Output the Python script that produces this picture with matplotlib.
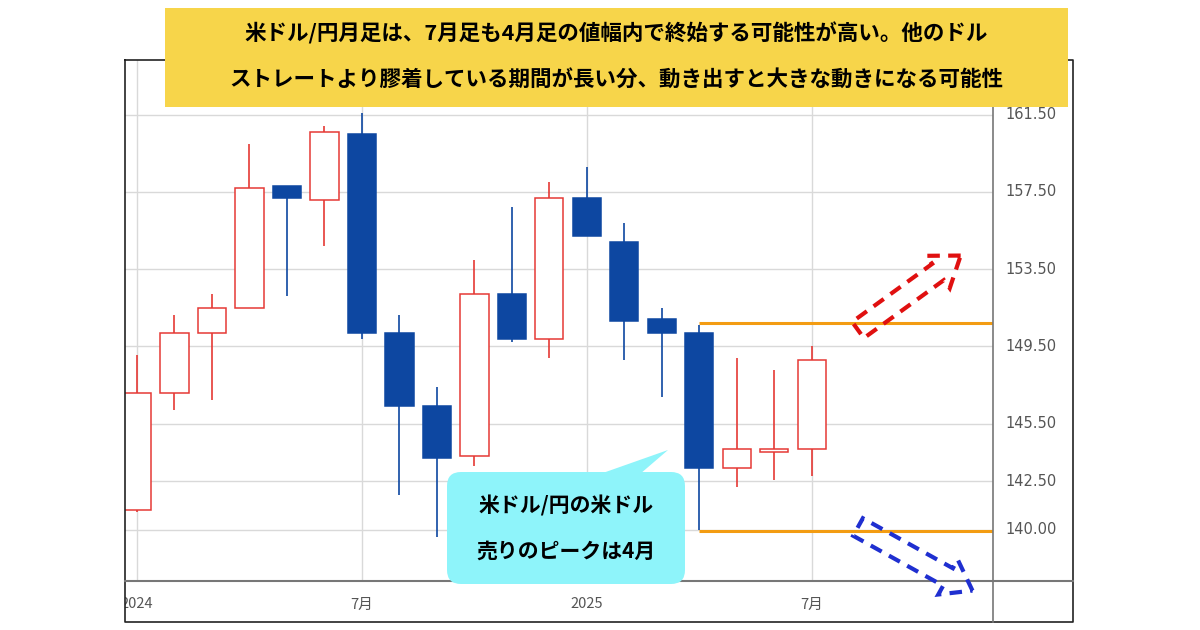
import matplotlib
matplotlib.use("Agg")
import matplotlib.pyplot as plt
import matplotlib.patches as mpatches
from matplotlib.patches import FancyBboxPatch, Polygon
from matplotlib.transforms import Bbox, TransformedBbox

plt.rcParams['font.family'] = ['Noto Sans CJK JP', 'DejaVu Sans']

months = list(range(19))  # Jan 2024 .. Jul 2025
opens  = [141.0,147.1,150.2,151.5,157.8,157.1,160.5,150.2,146.4,143.8,152.2,149.9,157.2,154.9,150.9,150.2,143.2,144.0,144.2]
highs  = [149.05,151.1,152.2,160.0,157.8,160.9,161.6,151.1,147.4,154.0,156.7,158.0,158.8,155.9,151.5,150.6,148.9,148.3,149.5]
lows   = [140.9,146.2,146.7,151.5,152.1,154.7,149.9,141.8,139.6,143.3,149.7,148.9,155.2,148.8,146.9,140.0,142.2,142.6,142.8]
closes = [147.1,150.2,151.5,157.7,157.2,160.6,150.2,146.4,143.7,152.2,149.9,157.2,155.2,150.8,150.2,143.2,144.2,144.2,148.8]
yticks = [140.00,142.50,145.50,149.50,153.50,157.50,161.50]
xtick_pos = [0,6,12,18]
xtick_lab = ['2024','7月','2025','7月']
res_level, sup_level, range_start = 150.7, 139.95, 15

fig = plt.figure(figsize=(12,6.3), dpi=100)
ax = fig.add_axes([125/1200, 49/630, 868/1200, 521/630])
ax.set_xlim(-0.32, 22.83)
ax.set_ylim(137.34, 164.34)

red, blue = '#E53935', '#0D47A1'
for i,o,h,l,c in zip(months,opens,highs,lows,closes):
    up = c >= o
    col = red if up else blue
    ax.vlines(i, l, min(o,c), color=col, lw=1.2, zorder=3)
    ax.vlines(i, max(o,c), h, color=col, lw=1.2, zorder=3)
    ax.add_patch(mpatches.Rectangle((i-0.375, min(o,c)), 0.75, max(abs(c-o),0.12),
                 facecolor='white' if up else blue, edgecolor=col, lw=1.1, zorder=4))

ax.hlines([res_level, sup_level], range_start, 22.83, color='#F39C12', lw=2.2, zorder=5)

ax.set_yticks(yticks)
ax.set_xticks(xtick_pos)
ax.grid(True, color='#D9D9D9', lw=1)
ax.set_axisbelow(True)
ax.tick_params(length=0, labelleft=False, labelbottom=False)
for s in ax.spines.values():
    s.set_visible(False)
tr = ax.get_yaxis_transform()
for v in yticks:
    ax.text(1.014, v, f'{v:.2f}', transform=tr, ha='left', va='center', fontsize=10.5, color='#555555', family='DejaVu Sans')

# overlay in pixel coordinates
ov = fig.add_axes([0,0,1,1], zorder=10)
ov.set_xlim(0,1200); ov.set_ylim(630,0); ov.axis('off'); ov.patch.set_alpha(0)
clipbox = TransformedBbox(Bbox([[125/1200,0],[1,1]]), fig.transFigure)
trx = ax.get_xaxis_transform()
for p,lab in zip(xtick_pos, xtick_lab):
    t = ax.text(p, -0.045, lab, transform=trx, ha='center', va='center', fontsize=10.5, color='#555555', clip_on=True)
    t.set_clip_box(clipbox)
ov.plot([125,1073,1073,125,125],[60,60,622,622,60], color='#222222', lw=1.2, zorder=1)
ov.plot([993,993],[60,622], color='#777777', lw=1.2, zorder=1)
ov.plot([125,1073],[581,581], color='#777777', lw=1.5, zorder=1)

ov.add_patch(mpatches.Rectangle((165,8), 903, 99, facecolor='#F7D54A', edgecolor='none', zorder=5))
ov.text(616, 33, '米ドル/円月足は、7月足も4月足の値幅内で終始する可能性が高い。他のドル', ha='center', va='center', fontsize=15.5, fontweight='bold', zorder=6)
ov.text(616, 79, 'ストレートより膠着している期間が長い分、動き出すと大きな動きになる可能性', ha='center', va='center', fontsize=15.5, fontweight='bold', zorder=6)

cy = '#8EF4FA'
ov.add_patch(FancyBboxPatch((447,472), 238, 112, boxstyle='round,pad=0,rounding_size=14', facecolor=cy, edgecolor='none', zorder=5))
ov.add_patch(Polygon([[600,474],[668,450],[640,474]], closed=True, facecolor=cy, edgecolor='none', zorder=5))
ov.text(566, 506, '米ドル/円の米ドル', ha='center', va='center', fontsize=15, fontweight='bold', zorder=6)
ov.text(566, 551, '売りのピークは4月', ha='center', va='center', fontsize=15, fontweight='bold', zorder=6)

ov.add_patch(mpatches.FancyArrow(858, 330, 80, -58, width=20, head_width=40, head_length=28,
             length_includes_head=False, fill=False, edgecolor='#E01010', lw=3, ls=(0,(3,2)), zorder=6))
ov.add_patch(mpatches.FancyArrow(858, 527, 90, 50, width=20, head_width=40, head_length=28,
             length_includes_head=False, fill=False, edgecolor='#1F2FD0', lw=3, ls=(0,(3,2)), zorder=6))

fig.savefig('out.png', dpi=100)
